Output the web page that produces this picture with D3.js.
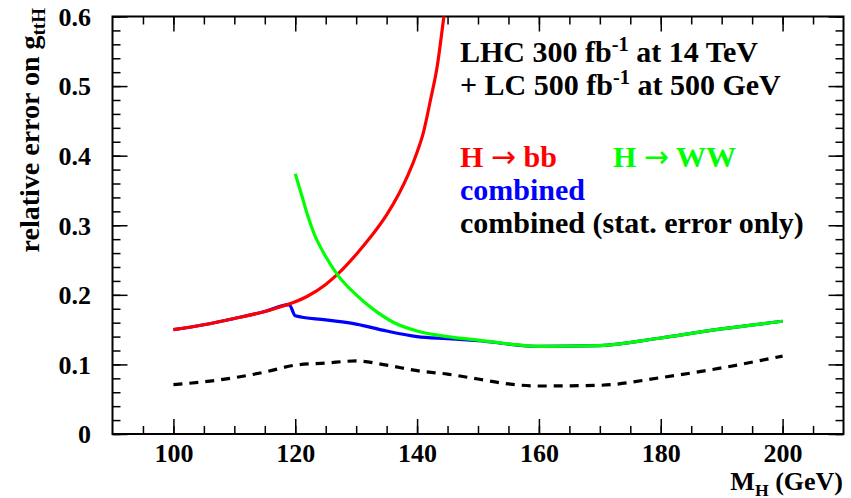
<!DOCTYPE html>
<html>
<head>
<meta charset="utf-8">
<script src="https://cdn.jsdelivr.net/npm/d3@7"></script>
<style>
    body { margin: 0; background: #fff; }
    text { font-family: "Liberation Serif", "Times New Roman", serif; font-weight: bold; }
</style>
</head>
<body>
<svg id="chart" width="851" height="498"></svg>
<script>
// Higgs mass (GeV) and relative error on g_ttH
var massBB = [100, 105, 110, 115, 118, 120, 122, 125, 127, 130, 132, 135, 137, 138.5, 140, 141, 142.2, 143.3, 144.4, 145];
var errBB  = [0.150, 0.157, 0.166, 0.176, 0.184, 0.190, 0.198, 0.215, 0.230, 0.258, 0.279, 0.315, 0.345, 0.372, 0.405, 0.432, 0.480, 0.528, 0.600, 0.640];

var massWW = [120, 121, 122, 123, 125, 127, 130, 133, 136, 140, 145, 150, 160, 170, 180, 190, 200];
var errWW  = [0.374, 0.345, 0.315, 0.290, 0.255, 0.228, 0.200, 0.178, 0.161, 0.148, 0.140, 0.135, 0.126, 0.127, 0.138, 0.151, 0.162];

var massComb = [100, 105, 110, 115, 119, 120, 125, 130, 135, 140, 145, 150, 160, 170, 180, 190, 200];
var errComb  = [0.150, 0.157, 0.166, 0.176, 0.186, 0.170, 0.164, 0.158, 0.148, 0.140, 0.137, 0.134, 0.126, 0.127, 0.138, 0.151, 0.162];

var massStat = [100, 105, 110, 115, 120, 125, 130, 135, 140, 145, 150, 155, 160, 170, 180, 190, 200];
var errStat  = [0.071, 0.075, 0.081, 0.089, 0.099, 0.102, 0.105, 0.099, 0.091, 0.086, 0.079, 0.072, 0.069, 0.070, 0.081, 0.095, 0.112];

var xMajorTicks = [100, 120, 140, 160, 180, 200];
var xMinorTicks = d3.range(95, 210, 5);
var yMajorTicks = [0, 0.1, 0.2, 0.3, 0.4, 0.5, 0.6];
var yMinorTicks = d3.range(0, 0.601, 0.02);

var svg = d3.select('#chart');
var plotLeft = 112.5, plotRight = 843.5, plotTop = 16.5, plotBottom = 434;

var xScale = d3.scaleLinear().domain([90, 210]).range([plotLeft, plotRight]);
var yScale = d3.scaleLinear().domain([0, 0.6]).range([plotBottom, plotTop]);

// clip curves to the frame
svg.append('clipPath').attr('id', 'frameClip')
    .append('rect')
    .attr('x', plotLeft).attr('y', plotTop)
    .attr('width', plotRight - plotLeft).attr('height', plotBottom - plotTop);

// axes: major ticks with labels, minor ticks without, mirrored on top/right
function drawAxis(axis, transform, cls) {
    var g = svg.append('g').attr('class', cls).attr('transform', transform).call(axis);
    g.select('.domain').remove();
    g.selectAll('line').attr('stroke', '#000').attr('stroke-width', 1.5);
    return g;
}

var xBottom = drawAxis(d3.axisBottom(xScale).tickValues(xMajorTicks).tickSize(-15).tickPadding(8)
    .tickFormat(d3.format('d')), 'translate(0,' + plotBottom + ')', 'xAxis');
xBottom.selectAll('text').attr('y', 28).attr('dy', null).style('font-size', '26px').attr('fill', '#000');
drawAxis(d3.axisBottom(xScale).tickValues(xMinorTicks).tickSize(-8).tickFormat(''), 'translate(0,' + plotBottom + ')', 'xMinor');
drawAxis(d3.axisTop(xScale).tickValues(xMajorTicks).tickSize(-15).tickFormat(''), 'translate(0,' + plotTop + ')', 'xTop');
drawAxis(d3.axisTop(xScale).tickValues(xMinorTicks).tickSize(-8).tickFormat(''), 'translate(0,' + plotTop + ')', 'xTopMinor');

var yLeft = drawAxis(d3.axisLeft(yScale).tickValues(yMajorTicks).tickSize(-15).tickPadding(21.5)
    .tickFormat(function(d) { return d === 0 ? '0' : d3.format('.1f')(d); }), 'translate(' + plotLeft + ',0)', 'yAxis');
yLeft.selectAll('text').style('font-size', '26px').attr('dy', '0.34em').attr('fill', '#000');
drawAxis(d3.axisLeft(yScale).tickValues(yMinorTicks).tickSize(-8).tickFormat(''), 'translate(' + plotLeft + ',0)', 'yMinor');
drawAxis(d3.axisRight(yScale).tickValues(yMajorTicks).tickSize(-15).tickFormat(''), 'translate(' + plotRight + ',0)', 'yRight');
drawAxis(d3.axisRight(yScale).tickValues(yMinorTicks).tickSize(-8).tickFormat(''), 'translate(' + plotRight + ',0)', 'yRightMinor');

// frame
svg.append('rect')
    .attr('x', plotLeft).attr('y', plotTop)
    .attr('width', plotRight - plotLeft).attr('height', plotBottom - plotTop)
    .attr('fill', 'none').attr('stroke', '#000').attr('stroke-width', 2);

// curves
var line = d3.line()
    .curve(d3.curveMonotoneX)
    .x(function(d) { return xScale(d[0]); })
    .y(function(d) { return yScale(d[1]); });

var curves = [
    { mass: massStat, err: errStat, color: '#000000', dash: '9,7' },
    { mass: massComb, err: errComb, color: '#0000ff', dash: null },
    { mass: massBB, err: errBB, color: '#ff0000', dash: null },
    { mass: massWW, err: errWW, color: '#00ff00', dash: null }
];

svg.append('g').attr('clip-path', 'url(#frameClip)')
    .selectAll('path')
    .data(curves)
    .enter()
    .append('path')
    .attr('d', function(c) { return line(d3.zip(c.mass, c.err)); })
    .attr('fill', 'none')
    .attr('stroke', function(c) { return c.color; })
    .attr('stroke-width', 3.2)
    .attr('stroke-linejoin', 'round')
    .attr('stroke-dasharray', function(c) { return c.dash; });

// legend / labels
function supText(x, y, parts, size, color) {
    var t = svg.append('text').attr('x', x).attr('y', y)
        .style('font-size', size + 'px').attr('fill', color);
    parts.forEach(function(p) {
        var s = t.append('tspan').text(p.text);
        if (p.sup) s.style('font-size', (size * 0.68) + 'px').attr('dy', -size * 0.38);
        if (p.sub) s.style('font-size', (size * 0.68) + 'px').attr('dy', size * 0.22);
        if (p.back) s.attr('dy', p.back);
        if (p.arrow) s.style('font-family', '"DejaVu Sans", sans-serif').style('font-weight', 'normal');
    });
    return t;
}

var legendSize = 30;
supText(460, 62, [{ text: 'LHC 300 fb' }, { text: '-1', sup: true }, { text: ' at 14 TeV', back: legendSize * 0.38 }], legendSize, '#000');
supText(460, 95, [{ text: '+ LC 500 fb' }, { text: '-1', sup: true }, { text: ' at 500 GeV', back: legendSize * 0.38 }], legendSize, '#000');
supText(460, 167, [{ text: 'H ' }, { text: '\u2192', arrow: true }, { text: ' bb' }], legendSize, '#ff0000');
supText(613, 167, [{ text: 'H ' }, { text: '\u2192', arrow: true }, { text: ' WW' }], legendSize, '#00ff00');
supText(460, 200, [{ text: 'combined' }], legendSize, '#0000ff');
supText(460, 233, [{ text: 'combined (stat. error only)' }], legendSize, '#000');

// axis titles
supText(843, 490, [{ text: 'M' }, { text: 'H', sub: true }, { text: ' (GeV)', back: -26 * 0.22 }], 26, '#000')
    .attr('text-anchor', 'end');

supText(0, 0, [{ text: 'relative error on g' }, { text: 'ttH', sub: true }], 28, '#000')
    .attr('text-anchor', 'end')
    .attr('transform', 'translate(39,8) rotate(-90)');
</script>
</body>
</html>
